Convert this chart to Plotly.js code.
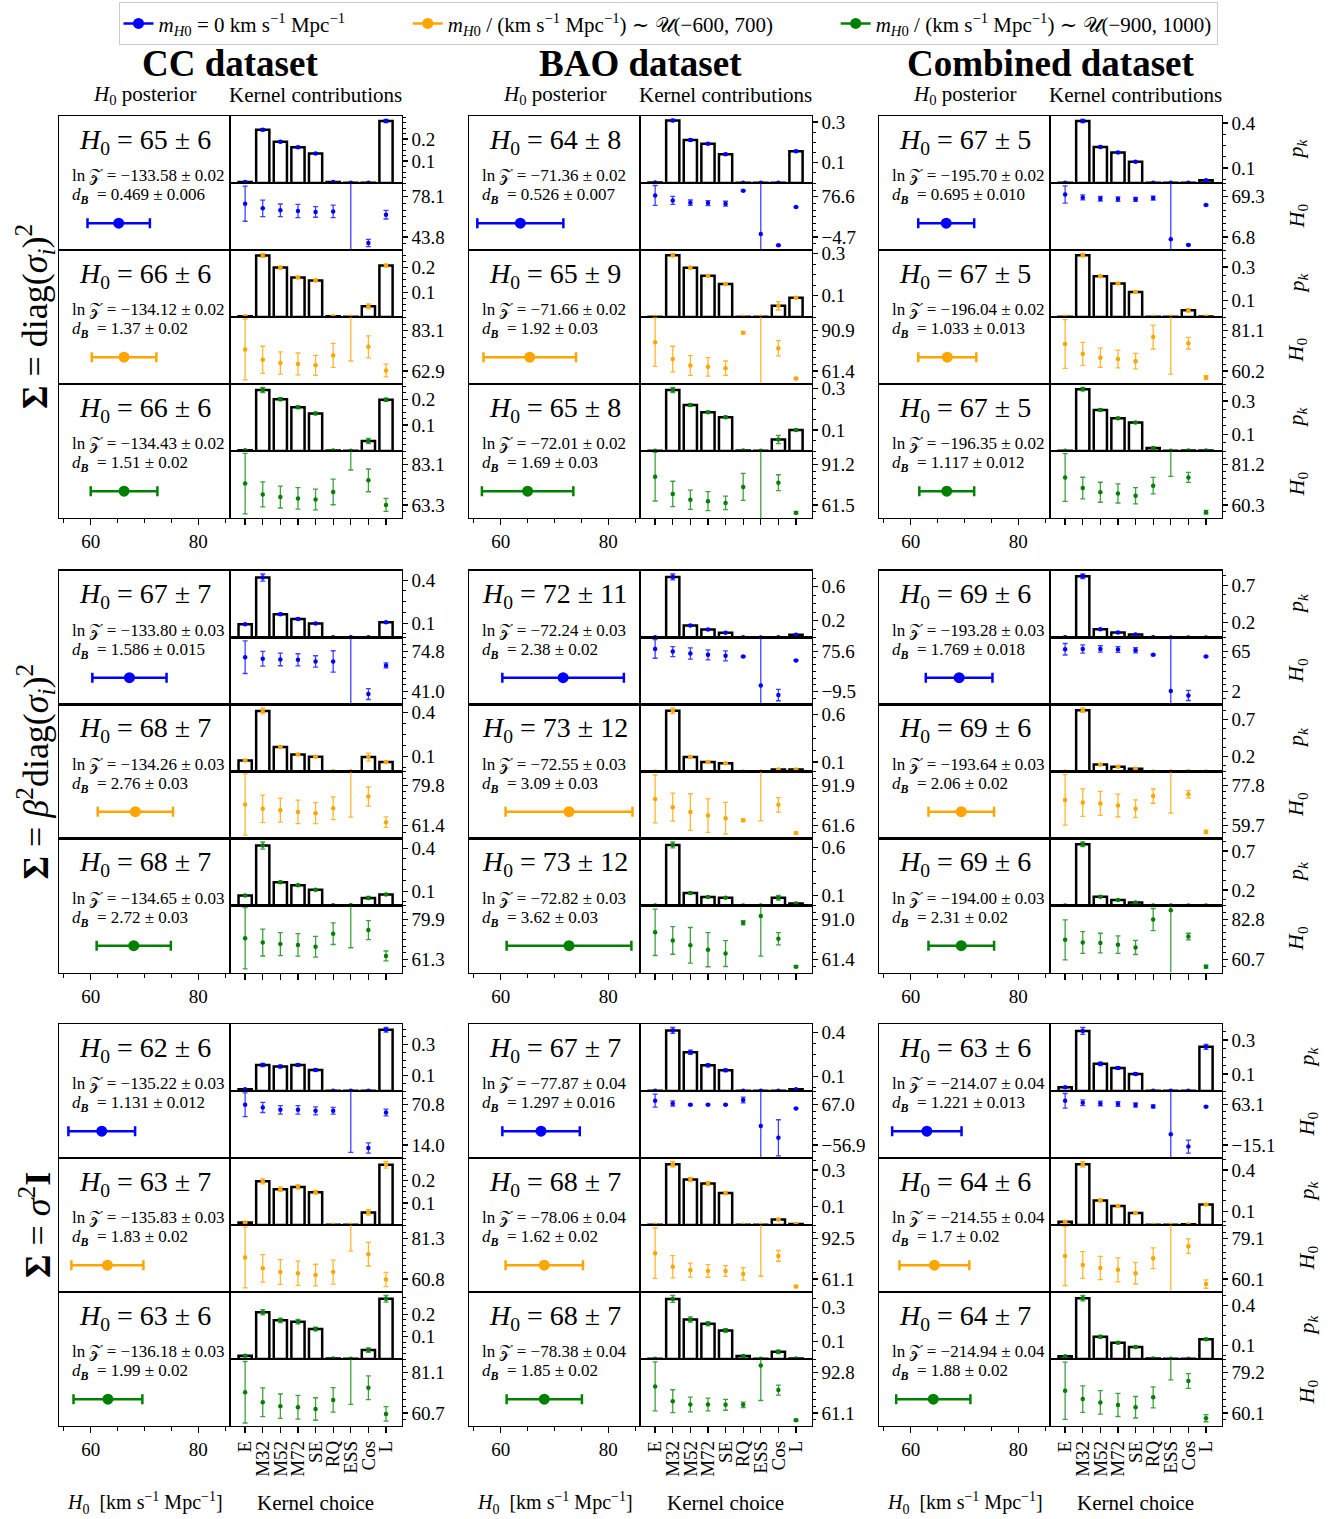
<!DOCTYPE html>
<html><head><meta charset="utf-8">
<script src="https://cdn.plot.ly/plotly-3.0.1.min.js"></script>
<style>html,body{margin:0;padding:0;background:#fff}</style>
</head><body>
<div id="chart" style="width:1337px;height:1519px"></div>
<script>
// ---------------- DATA ----------------
const kernels = ['E','M32','M52','M72','SE','RQ','ESS','Cos','L'];
const datasetTitles = ['CC dataset','BAO dataset','Combined dataset'];
const covarianceLabels = [
  '<b>Σ</b> = diag(<i>σ</i><sub><i>i</i></sub>)<sup>2</sup>',
  '<b>Σ</b> = <i>β</i><sup>2</sup>diag(<i>σ</i><sub><i>i</i></sub>)<sup>2</sup>',
  '<b>Σ</b> = <i>σ</i><sup>2</sup><b>I</b>'
];
const priorLabels = [
  '<i>m</i><sub><i>H</i>0</sub> = 0 km s<sup>−1</sup> Mpc<sup>−1</sup>',
  '<i>m</i><sub><i>H</i>0</sub> / (km s<sup>−1</sup> Mpc<sup>−1</sup>) ∼ 𝒰(−600, 700)',
  '<i>m</i><sub><i>H</i>0</sub> / (km s<sup>−1</sup> Mpc<sup>−1</sup>) ∼ 𝒰(−900, 1000)'
];
const posteriorTicks = [60, 80];

// panel order: covariance group (3) x dataset (3) x prior (3)
const h0Mean  = [65.2,66.2,66.2, 63.65,65.4,65.0, 66.6,66.8,66.7,
                 67.2,68.3,68.0, 71.6,72.7,72.7, 69.0,69.4,69.4,
                 62.05,63.1,63.2, 67.5,68.1,68.1, 63.0,64.4,64.2];
const h0Sigma = [5.8,6.0,6.2, 8.0,8.6,8.5, 5.2,5.4,5.1,
                 6.9,7.0,6.9, 11.3,11.8,11.6, 6.2,6.1,6.1,
                 6.2,6.7,6.4, 7.2,7.2,7.0, 6.45,6.5,6.9];
const h0Summary = ['65 ± 6','66 ± 6','66 ± 6','64 ± 8','65 ± 9','65 ± 8','67 ± 5','67 ± 5','67 ± 5',
                   '67 ± 7','68 ± 7','68 ± 7','72 ± 11','73 ± 12','73 ± 12','69 ± 6','69 ± 6','69 ± 6',
                   '62 ± 6','63 ± 7','63 ± 6','67 ± 7','68 ± 7','68 ± 7','63 ± 6','64 ± 6','64 ± 7'];
const lnZ = ['−133.58 ± 0.02','−134.12 ± 0.02','−134.43 ± 0.02','−71.36 ± 0.02','−71.66 ± 0.02','−72.01 ± 0.02','−195.70 ± 0.02','−196.04 ± 0.02','−196.35 ± 0.02',
             '−133.80 ± 0.03','−134.26 ± 0.03','−134.65 ± 0.03','−72.24 ± 0.03','−72.55 ± 0.03','−72.82 ± 0.03','−193.28 ± 0.03','−193.64 ± 0.03','−194.00 ± 0.03',
             '−135.22 ± 0.03','−135.83 ± 0.03','−136.18 ± 0.03','−77.87 ± 0.04','−78.06 ± 0.04','−78.38 ± 0.04','−214.07 ± 0.04','−214.55 ± 0.04','−214.94 ± 0.04'];
const dB = ['0.469 ± 0.006','1.37 ± 0.02','1.51 ± 0.02','0.526 ± 0.007','1.92 ± 0.03','1.69 ± 0.03','0.695 ± 0.010','1.033 ± 0.013','1.117 ± 0.012',
            '1.586 ± 0.015','2.76 ± 0.03','2.72 ± 0.03','2.38 ± 0.02','3.09 ± 0.03','3.62 ± 0.03','1.769 ± 0.018','2.06 ± 0.02','2.31 ± 0.02',
            '1.131 ± 0.012','1.83 ± 0.02','1.99 ± 0.02','1.297 ± 0.016','1.62 ± 0.02','1.85 ± 0.02','1.221 ± 0.013','1.7 ± 0.02','1.88 ± 0.02'];

const pk = [
  [0.005,0.242,0.188,0.163,0.134,0.004,0.001,0.001,0.282],
  [0.003,0.249,0.200,0.160,0.148,0.003,0.001,0.043,0.208],
  [0.003,0.235,0.200,0.169,0.145,0.002,0.001,0.039,0.198],
  [0.002,0.308,0.212,0.193,0.142,0.001,0.001,0.001,0.157],
  [0.001,0.292,0.233,0.195,0.156,0.001,0.001,0.053,0.091],
  [0.001,0.292,0.220,0.186,0.162,0.002,0.001,0.055,0.100],
  [0.002,0.413,0.240,0.203,0.141,0.002,0.001,0.001,0.018],
  [0.001,0.370,0.244,0.200,0.150,0.001,0.001,0.040,0.003],
  [0.001,0.370,0.246,0.196,0.170,0.018,0.001,0.003,0.003],
  [0.092,0.418,0.162,0.129,0.097,0.002,0.001,0.001,0.106],
  [0.075,0.411,0.166,0.116,0.100,0.001,0.001,0.098,0.064],
  [0.069,0.418,0.162,0.141,0.109,0.002,0.001,0.053,0.076],
  [0.002,0.713,0.142,0.095,0.056,0.002,0.001,0.002,0.033],
  [0.001,0.635,0.152,0.100,0.086,0.001,0.001,0.020,0.020],
  [0.001,0.626,0.130,0.088,0.080,0.001,0.001,0.080,0.020],
  [0.002,0.820,0.110,0.066,0.040,0.002,0.001,0.001,0.001],
  [0.001,0.827,0.095,0.064,0.036,0.001,0.001,0.002,0.001],
  [0.001,0.787,0.113,0.070,0.040,0.001,0.001,0.001,0.001],
  [0.012,0.168,0.158,0.168,0.135,0.002,0.001,0.001,0.395],
  [0.011,0.198,0.162,0.172,0.148,0.001,0.001,0.057,0.272],
  [0.015,0.209,0.173,0.167,0.134,0.002,0.001,0.040,0.269],
  [0.002,0.416,0.266,0.176,0.142,0.001,0.001,0.001,0.012],
  [0.001,0.331,0.248,0.226,0.174,0.001,0.001,0.030,0.005],
  [0.001,0.349,0.230,0.205,0.166,0.018,0.001,0.042,0.003],
  [0.022,0.354,0.160,0.136,0.100,0.002,0.001,0.001,0.260],
  [0.024,0.442,0.179,0.139,0.088,0.001,0.001,0.005,0.149],
  [0.020,0.455,0.166,0.122,0.089,0.003,0.001,0.002,0.148]
];
const pkErr = [
  [0.002,0.005,0.004,0.004,0.004,0.002,0.001,0.001,0.007],
  [0.002,0.008,0.006,0.005,0.005,0.002,0.001,0.010,0.006],
  [0.002,0.010,0.006,0.005,0.005,0.002,0.001,0.010,0.006],
  [0.001,0.005,0.004,0.004,0.004,0.001,0.001,0.001,0.004],
  [0.001,0.008,0.006,0.005,0.004,0.001,0.001,0.020,0.004],
  [0.001,0.012,0.006,0.005,0.005,0.001,0.001,0.020,0.003],
  [0.001,0.010,0.006,0.005,0.004,0.001,0.001,0.001,0.003],
  [0.001,0.010,0.006,0.005,0.004,0.001,0.001,0.010,0.002],
  [0.001,0.010,0.006,0.005,0.005,0.004,0.001,0.002,0.002],
  [0.004,0.025,0.007,0.006,0.005,0.001,0.001,0.001,0.005],
  [0.005,0.020,0.007,0.006,0.005,0.001,0.001,0.027,0.004],
  [0.004,0.025,0.007,0.006,0.005,0.001,0.001,0.010,0.004],
  [0.001,0.035,0.008,0.006,0.005,0.001,0.001,0.001,0.004],
  [0.001,0.030,0.007,0.005,0.005,0.001,0.001,0.004,0.003],
  [0.001,0.030,0.007,0.005,0.005,0.001,0.001,0.025,0.003],
  [0.001,0.030,0.007,0.005,0.004,0.001,0.001,0.001,0.001],
  [0.001,0.030,0.006,0.005,0.004,0.001,0.001,0.001,0.001],
  [0.001,0.030,0.006,0.005,0.004,0.001,0.001,0.001,0.001],
  [0.002,0.010,0.009,0.009,0.007,0.001,0.001,0.001,0.015],
  [0.002,0.012,0.010,0.010,0.008,0.001,0.001,0.012,0.015],
  [0.002,0.012,0.010,0.010,0.008,0.001,0.001,0.010,0.015],
  [0.001,0.020,0.015,0.010,0.008,0.001,0.001,0.001,0.003],
  [0.001,0.015,0.012,0.010,0.008,0.001,0.001,0.006,0.002],
  [0.001,0.020,0.015,0.012,0.010,0.005,0.001,0.010,0.002],
  [0.003,0.020,0.010,0.008,0.006,0.001,0.001,0.001,0.015],
  [0.003,0.020,0.010,0.008,0.005,0.001,0.001,0.002,0.006],
  [0.003,0.020,0.010,0.006,0.005,0.001,0.001,0.001,0.006]
];
const kernelH0 = [
  [72.2,68.2,66.5,65.9,65.1,65.6,20,38.7,62.8],
  [73.7,68.5,66.9,66.4,65.7,70.7,100,75.0,63.1],
  [73.8,68.5,67.2,66.5,66.0,69.7,105,75.4,63.3],
  [79.3,69.2,64.5,63.8,62.5,88.7,1.3,-21.5,55.8],
  [82.5,70.1,65.4,64.4,63.4,89.4,40,78.0,55.9],
  [82.4,69.6,65.3,64.3,63.0,74.8,40,77.9,55.7],
  [72.9,68.3,66.2,65.7,65.2,67.2,3.2,-5.6,56.4],
  [74.2,69.1,67.1,66.4,65.3,77.8,100,74.6,56.8],
  [74.6,69.1,66.9,66.3,65.1,70.3,100,74.6,56.5],
  [69.8,68.4,67.9,67.6,66.2,66.2,10,38.8,62.9],
  [71.0,69.0,68.4,67.6,67.0,69.3,100,74.6,62.9],
  [71.1,69.1,68.4,68.0,67.2,73.2,100,74.9,62.9],
  [80.5,74.9,70.7,67.9,65.8,64.4,3.1,-17.2,56.1],
  [81.6,75.4,71.7,69.0,67.0,65.5,110,77.1,55.9],
  [81.4,75.4,71.8,68.6,65.7,88.4,93.4,76.6,56.1],
  [68.1,68.6,68.6,67.6,66.5,59.3,2.5,-4.2,56.7],
  [71.2,70.0,69.6,68.7,67.2,72.9,95,73.7,56.8],
  [71.5,70.0,69.7,68.8,67.3,82.6,87.7,73.3,56.7],
  [70.8,67.0,63.6,63.6,62.2,62.2,100,9.7,59.8],
  [71.7,66.2,64.3,63.7,62.8,64.3,100,73.4,60.5],
  [71.2,66.1,64.1,63.6,62.7,67.3,100,73.5,60.2],
  [79.5,71.1,67.0,67.0,67.0,81.6,1.4,-35.0,55.5],
  [81.2,70.6,68.0,67.3,67.3,65.0,115,79.1,55.2],
  [82.0,70.4,67.8,67.8,67.5,67.5,98.5,79.1,55.4],
  [70.7,66.9,65.6,64.4,62.5,59.9,5.9,-18.3,59.3],
  [70.9,66.7,65.3,64.4,62.8,69.9,40,75.6,57.7],
  [70.6,66.7,65.1,63.9,62.8,67.5,95,75.3,57.6]
];
const kernelH0Err = [
  [15,7,5.4,5.7,4.5,5.3,80,3.1,3.7],
  [15.3,6.8,5.6,5.5,5.0,6.0,32.1,5.5,3.2],
  [14.9,6.2,5.4,5.3,5.1,6.3,24.5,5.6,3.2],
  [20,8,5.5,5,5,1,120,1,1],
  [17.8,9.4,7.2,6.8,5.3,0.8,70,5.6,0.8],
  [18,9.4,7.1,7,5,10,80,5.9,0.8],
  [13.4,4,3.5,3.5,3,3,100,1,1],
  [12.7,6,5,4.6,4,6.2,41.5,3,1],
  [12.4,5.6,5.2,5,4.2,4.3,24.8,2.6,1],
  [13.7,6.2,5.3,5.1,4.8,9,90,4.6,2.1],
  [14,6.3,5.5,5.4,4.8,5.2,34.8,4.4,2.4],
  [14.2,6.2,5.3,5.2,4.8,5,33.3,4.4,2.3],
  [19.8,10.5,12,10.5,10.5,1.5,130,12,1.5],
  [18,10.5,13.8,12.6,12,1,45,5.4,0.8],
  [17.1,10.2,13.1,12.6,9.5,1.5,29.6,4.5,0.8],
  [9,6.5,5,4.5,4,1,120,8,1],
  [11.4,6.2,5.4,5.1,4,3.2,29.7,1.7,0.8],
  [11,6,5.4,4.8,3.9,6.1,40,1.8,0.8],
  [16.7,7.2,6,6,5.7,4.8,96.5,7.2,4.8],
  [15.5,7,6.3,6.2,5.5,6.1,25,6,3.6],
  [15.6,7.3,6.2,6,5.7,6.2,35,6,3.7],
  [20,8,2,2,2,9,200,55.7,1.5],
  [19.7,8.7,5.5,4.9,4.2,4.9,51.8,4.2,0.8],
  [19.3,9,5.8,5,4.3,2.2,27.6,4,0.8],
  [14.3,5.7,4.5,4.5,4,3,150,12.7,1],
  [13.9,6.3,5.5,5.7,5.1,4.9,60,3.4,2],
  [13.6,6.3,5.6,5.5,5.1,5,19.2,3.5,1.7]
];
const pkTickVals = [
  [0.1,0.2],[0.1,0.2],[0.1,0.2],[0.1,0.3],[0.1,0.3],[0.1,0.3],[0.1,0.4],[0.1,0.3],[0.1,0.3],
  [0.1,0.4],[0.1,0.4],[0.1,0.4],[0.2,0.6],[0.1,0.6],[0.1,0.6],[0.2,0.7],[0.2,0.7],[0.2,0.7],
  [0.1,0.3],[0.1,0.2],[0.1,0.2],[0.1,0.4],[0.1,0.3],[0.1,0.3],[0.1,0.3],[0.1,0.4],[0.1,0.4]
];
const h0TickLabels = [
  ['43.8','78.1'],['62.9','83.1'],['63.3','83.1'],['−4.7','76.6'],['61.4','90.9'],['61.5','91.2'],['6.8','69.3'],['60.2','81.1'],['60.3','81.2'],
  ['41.0','74.8'],['61.4','79.8'],['61.3','79.9'],['−9.5','75.6'],['61.6','91.9'],['61.4','91.0'],['2','65'],['59.7','77.8'],['60.7','82.8'],
  ['14.0','70.8'],['60.8','81.3'],['60.7','81.1'],['−56.9','67.0'],['61.1','92.5'],['61.1','92.8'],['−15.1','63.1'],['60.1','79.1'],['60.1','79.2']
];

// ---------------- STYLE / LAYOUT ----------------
const FONT = 'Liberation Serif, DejaVu Serif, serif';
const colors = ['#0000ff','#ffa500','#008000'];
const errColors = ['rgba(0,0,255,0.75)','rgba(255,165,0,0.8)','rgba(0,128,0,0.75)'];
const W = 1337, H = 1519;
const colLeft = [59, 469, 879];
const groupTop = [116, 570.5, 1024];
const PW = 171, KW = 171.5, RH = 134, HH = 67;
const tickFont = {family: FONT, size: 19, color: '#000'};
const NB = '\u00a0';
const sfx = k => (k === 1 ? '' : String(k));
const num = s => parseFloat(s.replace('−', '-'));
const base = {showline: true, linecolor: '#000', linewidth: 1.3, mirror: true, showgrid: false,
  zeroline: false, ticks: '', showticklabels: false, fixedrange: true, tickfont: tickFont};
const txt = (o) => Object.assign({showarrow: false, xanchor: 'center', yanchor: 'middle', xref: 'paper', yref: 'paper'}, o);

const traces = [];
const annotations = [];
const layout = {
  width: W, height: H, margin: {l: 0, r: 0, t: 0, b: 0},
  paper_bgcolor: '#fff', plot_bgcolor: 'rgba(0,0,0,0)',
  font: {family: FONT, color: '#000'},
  showlegend: true,
  legend: {orientation: 'h', x: 0.5, xanchor: 'center', y: 1 - 2 / H, yanchor: 'top',
    bordercolor: '#cccccc', borderwidth: 1.3, bgcolor: '#fff',
    font: {family: FONT, size: 21, color: '#000'}, itemwidth: 30},
  annotations: annotations
};

let n = 1;
for (let g = 0; g < 3; g++) {
  for (let c = 0; c < 3; c++) {
    for (let r = 0; r < 3; r++) {
      const i = g * 9 + c * 3 + r;
      const top = groupTop[g] + r * RH;
      const x0 = colLeft[c];
      const aL = n, aB = n + 1, aH = n + 2; n += 3;
      const col = colors[r], ecol = errColors[r];

      // ---- left: H0 posterior ----
      layout['xaxis' + sfx(aL)] = Object.assign({}, base, {
        domain: [x0 / W, (x0 + PW) / W], anchor: 'y' + sfx(aL), range: [54.1, 85.9],
        ticks: r === 2 ? 'outside' : '', showticklabels: r === 2,
        tickmode: 'array', tickvals: posteriorTicks, ticktext: posteriorTicks.map(String),
        ticklen: 6, tickwidth: 1.3, tickcolor: '#000',
        minor: r === 2 ? {tickmode: 'linear', tick0: 55, dtick: 5, ticks: 'outside', ticklen: 4, tickwidth: 1.1, tickcolor: '#000'} : {ticks: ''}
      });
      layout['yaxis' + sfx(aL)] = Object.assign({}, base, {
        domain: [1 - (top + RH) / H, 1 - top / H], anchor: 'x' + sfx(aL), range: [0, 1]
      });
      traces.push({
        type: 'scatter', mode: 'lines+markers', x: [h0Mean[i]], y: [0.2],
        xaxis: 'x' + sfx(aL), yaxis: 'y' + sfx(aL),
        marker: {color: col, size: 11}, line: {color: col, width: 2.5},
        error_x: {type: 'data', array: [h0Sigma[i]], color: col, thickness: 2.5, width: 5},
        name: priorLabels[r] + (r < 2 ? NB.repeat(11) : ''), showlegend: g === 0 && c === 0,
        legendgroup: 'p' + r, hoverinfo: 'skip'
      });
      const xd = 'x' + sfx(aL) + ' domain', yd = 'y' + sfx(aL) + ' domain';
      annotations.push(txt({xref: xd, yref: yd, x: 0.5, y: 0.81,
        text: '<i>H</i><sub>0</sub> = ' + h0Summary[i], font: {family: FONT, size: 28, color: '#000'}}));
      annotations.push(txt({xref: xd, yref: yd, x: 0.062, y: 0.555, xanchor: 'left',
        text: 'ln 𝒵 = ' + lnZ[i], font: {family: FONT, size: 17, color: '#000'}}));
      annotations.push(txt({xref: xd, yref: yd, x: 0.062, y: 0.4, xanchor: 'left',
        text: '<i>d</i><sub><b><i>B</i></b></sub>' + NB + ' = ' + dB[i], font: {family: FONT, size: 17, color: '#000'}}));

      // ---- bar panel: p_k ----
      const pkMax = Math.max(...pk[i].map((v, k) => v + pkErr[i][k]));
      const pt = pkTickVals[i];
      layout['xaxis' + sfx(aB)] = Object.assign({}, base, {
        domain: [(x0 + PW) / W, (x0 + PW + KW) / W], anchor: 'y' + sfx(aB),
        type: 'category', range: [-0.86, 8.88]
      });
      layout['yaxis' + sfx(aB)] = Object.assign({}, base, {
        domain: [1 - (top + HH) / H, 1 - top / H], anchor: 'x' + sfx(aB), side: 'right',
        range: [0, pkMax * 1.055], ticks: 'outside', ticklen: 5, tickwidth: 1.3, tickcolor: '#000',
        showticklabels: true, tickmode: 'array', tickvals: pt, ticktext: pt.map(v => v.toFixed(1)),
        minor: {tickmode: 'linear', tick0: pt[0], dtick: (pt[1] - pt[0]) / 4, ticks: 'outside', ticklen: 3, tickwidth: 1, tickcolor: '#000'}
      });
      traces.push({
        type: 'bar', x: kernels, y: pk[i], xaxis: 'x' + sfx(aB), yaxis: 'y' + sfx(aB), width: 0.75,
        marker: {color: 'rgba(255,255,255,0)', line: {color: '#000', width: 2.5}},
        showlegend: false, hoverinfo: 'skip'
      });
      traces.push({
        type: 'scatter', mode: 'markers', x: kernels, y: pk[i], xaxis: 'x' + sfx(aB), yaxis: 'y' + sfx(aB),
        marker: {color: col, size: 4.5},
        error_y: {type: 'data', array: pkErr[i], color: ecol, thickness: 1.3, width: 2.5},
        showlegend: false, hoverinfo: 'skip'
      });

      // ---- kernel H0 panel ----
      const tl = num(h0TickLabels[i][0]), th = num(h0TickLabels[i][1]);
      const U = (th - tl) / (0.795 - 0.195);
      const lo = tl - 0.195 * U;
      layout['xaxis' + sfx(aH)] = Object.assign({}, base, {
        domain: [(x0 + PW) / W, (x0 + PW + KW) / W], anchor: 'y' + sfx(aH),
        type: 'category', range: [-0.86, 8.88],
        ticks: r === 2 ? 'outside' : '', ticklen: 6, tickwidth: 1.3, tickcolor: '#000',
        tickmode: 'array', tickvals: kernels, ticktext: kernels,
        showticklabels: r === 2 && g === 2, tickangle: -90
      });
      layout['yaxis' + sfx(aH)] = Object.assign({}, base, {
        domain: [1 - (top + RH) / H, 1 - (top + HH) / H], anchor: 'x' + sfx(aH), side: 'right',
        range: [lo, lo + U], ticks: 'outside', ticklen: 5, tickwidth: 1.3, tickcolor: '#000',
        showticklabels: true, tickmode: 'array', tickvals: [tl, th], ticktext: h0TickLabels[i],
        minor: {tickmode: 'linear', tick0: tl, dtick: (th - tl) / 6, ticks: 'outside', ticklen: 3, tickwidth: 1, tickcolor: '#000'}
      });
      traces.push({
        type: 'scatter', mode: 'markers', x: kernels, y: kernelH0[i], xaxis: 'x' + sfx(aH), yaxis: 'y' + sfx(aH),
        marker: {color: col, size: 4.5},
        error_y: {type: 'data', array: kernelH0Err[i], color: ecol, thickness: 1.3, width: 2.5},
        showlegend: false, hoverinfo: 'skip'
      });

      // right-hand axis labels for the combined column
      if (c === 2) {
        const xl = (g === 2 ? 1307 : 1297) / W;
        annotations.push(txt({x: xl, y: 1 - (top + HH / 2) / H, textangle: -90,
          text: '<i>p</i><sub><i>k</i></sub>', font: {family: FONT, size: 22, color: '#000'}}));
        annotations.push(txt({x: xl, y: 1 - (top + HH * 1.5) / H, textangle: -90,
          text: '<i>H</i><sub>0</sub>', font: {family: FONT, size: 22, color: '#000'}}));
      }
    }
  }
}

// column titles and sub-titles
for (let c = 0; c < 3; c++) {
  annotations.push(txt({x: (colLeft[c] + PW) / W, y: 1 - 63 / H,
    text: '<b>' + datasetTitles[c] + '</b>', font: {family: FONT, size: 37, color: '#000'}}));
  annotations.push(txt({x: (colLeft[c] + PW / 2) / W, y: 1 - 95 / H,
    text: '<i>H</i><sub>0</sub> posterior', font: {family: FONT, size: 21, color: '#000'}}));
  annotations.push(txt({x: (colLeft[c] + PW + KW / 2) / W, y: 1 - 95 / H,
    text: 'Kernel contributions', font: {family: FONT, size: 21, color: '#000'}}));
  annotations.push(txt({x: (colLeft[c] + PW / 2) / W, y: 1 - 1503 / H,
    text: '<i>H</i><sub>0</sub>' + NB + ' [km s<sup>−1</sup> Mpc<sup>−1</sup>]', font: {family: FONT, size: 20, color: '#000'}}));
  annotations.push(txt({x: (colLeft[c] + PW + KW / 2) / W, y: 1 - 1503 / H,
    text: 'Kernel choice', font: {family: FONT, size: 21, color: '#000'}}));
}
// covariance row labels
for (let g = 0; g < 3; g++) {
  annotations.push(txt({x: 35 / W, y: 1 - (groupTop[g] + 1.5 * RH) / H, textangle: -90,
    text: covarianceLabels[g], font: {family: FONT, size: 36, color: '#000'}}));
}

Plotly.newPlot('chart', traces, layout, {staticPlot: true, displayModeBar: false});
</script>
</body></html>
